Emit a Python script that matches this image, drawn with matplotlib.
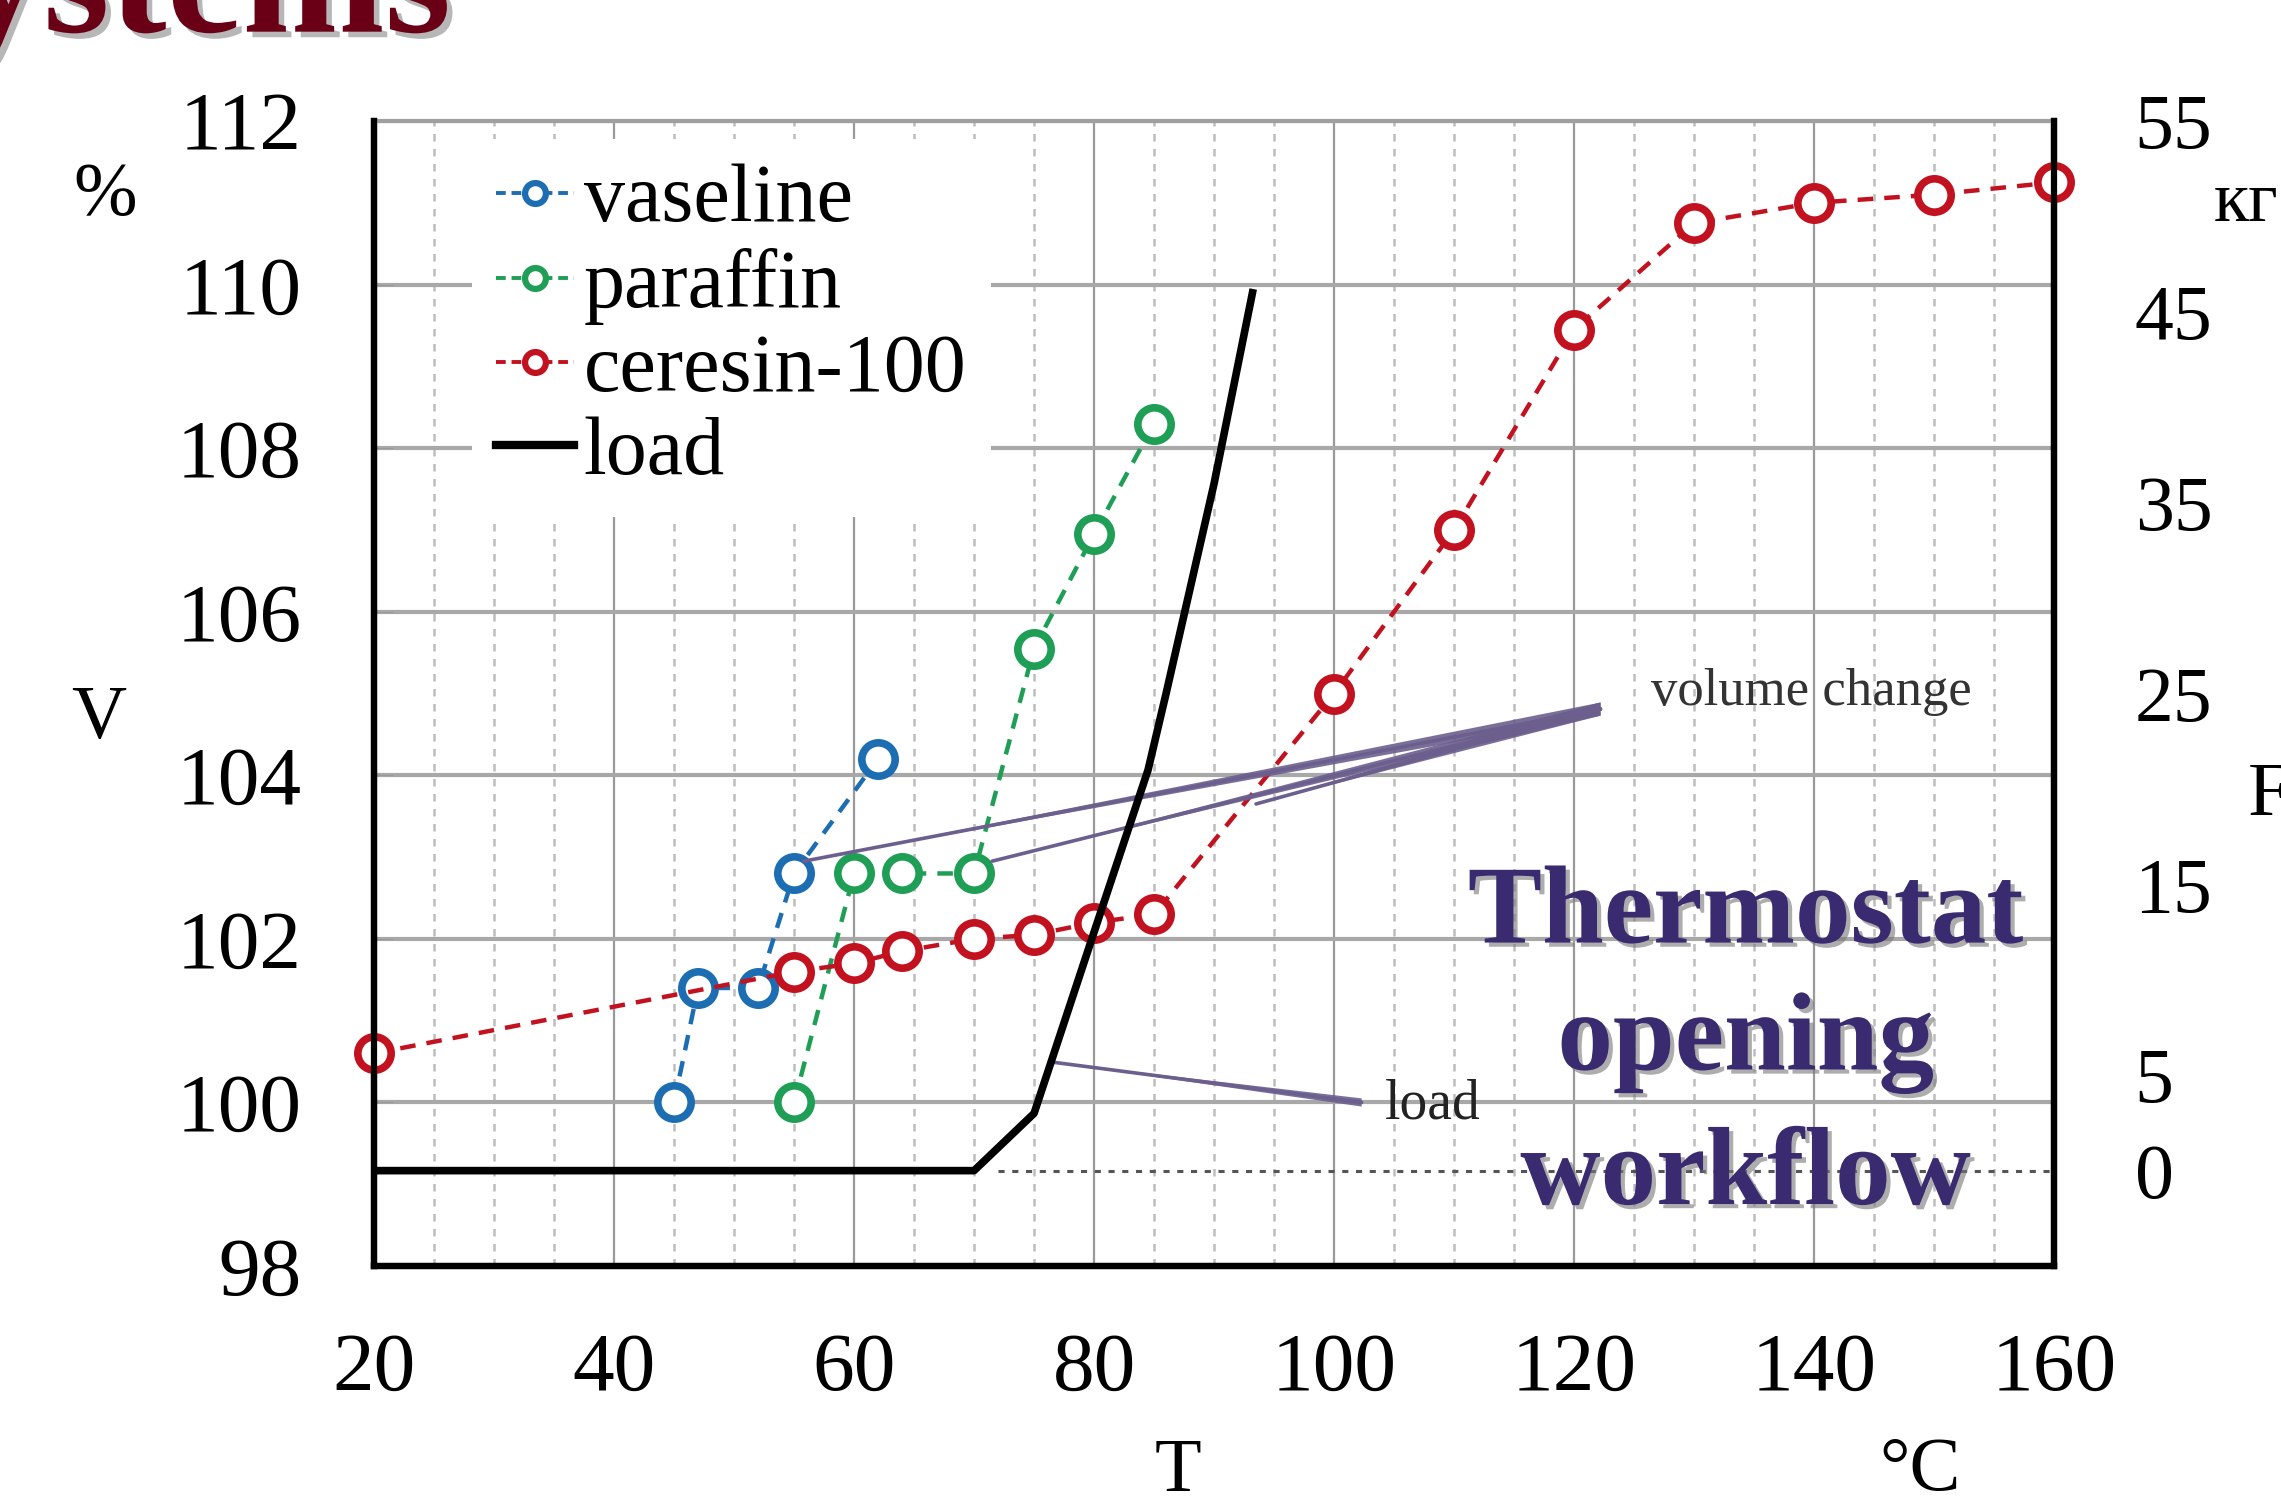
import numpy as np
import matplotlib
matplotlib.use('Agg')
import matplotlib.pyplot as plt
import matplotlib.patheffects as pe
from matplotlib.lines import Line2D

plt.rcParams['font.family'] = ['Liberation Serif', 'DejaVu Serif']

# temperature, degC  /  relative volume, %
vaseline_t = [45, 47, 52, 55, 62]
vaseline_v = [100.0, 101.4, 101.4, 102.8, 104.2]

paraffin_t = [55, 60, 64, 70, 75, 80, 85]
paraffin_v = [100.0, 102.8, 102.8, 102.8, 105.55, 106.95, 108.3]

ceresin_t = [20, 55, 60, 64, 70, 75, 80, 85, 100, 110, 120, 130, 140, 150, 160]
ceresin_v = [100.6, 101.6, 101.7, 101.85, 102.0, 102.05, 102.2, 102.3,
             105.0, 107.0, 109.45, 110.75, 111.0, 111.1, 111.25]

# load, kgf (right axis)
load_t = [20, 70, 75, 80, 84.5, 86, 90, 93.2]
load_f = [0, 0, 3, 12.5, 21, 25, 36, 46]

x_ticks = [20, 40, 60, 80, 100, 120, 140, 160]
v_ticks = [98, 100, 102, 104, 106, 108, 110, 112]
f_ticks = [0, 5, 15, 25, 35, 45, 55]

title_lines = ['Thermostat', 'opening', 'workflow']

BLUE = '#1d6db3'
GREEN = '#1f9e55'
RED = '#c3121f'
ANN = '#6c5f8e'

fig = plt.figure(figsize=(22.81, 15.09), dpi=100)
ax = fig.add_axes([0.164, 0.161, 0.7365, 0.7588])
ax2 = ax.twinx()

# grid
ax.set_xlim(20, 160)
ax.set_ylim(98, 112)
ax.set_xticks(x_ticks)
ax.set_xticks(np.arange(20, 161, 5), minor=True)
ax.set_yticks(v_ticks)
ax.grid(True, which='major', axis='x', color='#9a9a9a', lw=1.6)
ax.grid(True, which='minor', axis='x', color='#bdbdbd', lw=1.8, ls=(0, (3, 3)))
ax.grid(True, which='major', axis='y', color='#a8a8a8', lw=3.0)
ax.set_axisbelow(True)

mstyle = dict(marker='o', ms=24, mew=5.5, mfc='white', ls=(0, (3.5, 2.5)), lw=3.2)
ax.plot(vaseline_t, vaseline_v, color=BLUE, zorder=4, **mstyle)
ax.plot(paraffin_t, paraffin_v, color=GREEN, zorder=4, **mstyle)
ax.plot(ceresin_t, ceresin_v, color=RED, zorder=4, clip_on=False, **mstyle)


def pointer(a, tip, apex, h, color):
    # tapered pointer line, thicker at the label end
    a.fill([tip[0], apex[0], apex[0]], [tip[1], apex[1] + h, apex[1] - h],
           color=color, lw=0, zorder=5, alpha=0.9)
    a.plot([tip[0], apex[0]], [tip[1], apex[1]], color=color, lw=2.6,
           zorder=5, solid_capstyle='round')


apex = (122.2, 104.81)
for tip in [(55.8, 102.95), (71.5, 102.95), (93.5, 103.65)]:
    pointer(ax, tip, apex, 0.08, ANN)
pointer(ax, (76.7, 100.49), (102.3, 100.0), 0.05, ANN)

ax.text(139.8, 105.02, 'volume change', fontsize=38, ha='center', va='center',
        color='#333333', zorder=6)
ax.text(104.2, 99.97, 'load', fontsize=40, ha='left', va='center',
        color='#222222', zorder=6)

# spines
for s in ['left', 'bottom', 'right']:
    ax.spines[s].set_linewidth(4.5)
    ax2.spines[s].set_linewidth(4.5)
ax.spines['top'].set_color('#a0a0a0')
ax.spines['top'].set_linewidth(3)
ax2.spines['top'].set_visible(False)

ax.tick_params(axis='both', which='both', direction='in', color='#999999')
ax.tick_params(axis='y', labelsize=60, pad=52, length=14)
ax.tick_params(axis='x', labelsize=60, pad=48, length=0, which='both')

# load on right axis
ax2.set_ylim(-5, 55)
ax2.set_yticks(f_ticks)
ax2.tick_params(axis='y', labelsize=56, pad=58, length=0)
ax2.plot([72, 160], [0, 0], color='#555555', lw=2.2, ls=(0, (2, 2.5)), zorder=2)
ax2.plot(load_t, load_f, color='black', lw=5.5, zorder=6, solid_joinstyle='round')

shadow = [pe.withSimplePatchShadow(offset=(3, -3), shadow_rgbFace='#777777', alpha=0.6)]
for line, yb in zip(title_lines, [11.95, 5.3, -1.75]):
    ax2.text(134.3, yb, line, fontsize=80, fontweight='bold', ha='center',
             va='baseline', color='#3a2a70', zorder=7, path_effects=shadow)

hstyle = dict(marker='o', ms=15, mew=4.5, mfc='white', ls=(0, (2.5, 1.5)), lw=2.8)
handles = [
    Line2D([], [], color=BLUE, **hstyle),
    Line2D([], [], color=GREEN, **hstyle),
    Line2D([], [], color=RED, **hstyle),
    Line2D([], [], color='black', lw=6),
]
leg = ax2.legend(handles, ['vaseline', 'paraffin', 'ceresin-100', 'load'],
                 loc='upper left', bbox_to_anchor=(0.058, 0.984), fontsize=59,
                 frameon=True, framealpha=1, edgecolor='none', facecolor='white',
                 handlelength=0.95, handletextpad=0.12, labelspacing=0.1,
                 borderpad=0.3, borderaxespad=0)
leg.set_zorder(10)

# axis labels
fig.text(0.046, 0.870, '%', fontsize=55, ha='center', va='center')
fig.text(0.0434, 0.523, 'V', fontsize=55, ha='center', va='center')
fig.text(0.5166, 0.024, 'T', fontsize=55, ha='center', va='center')
fig.text(0.842, 0.025, '°C', fontsize=55, ha='center', va='center')
fig.text(0.9707, 0.865, 'кг', fontsize=52, ha='left', va='center')
fig.text(0.9855, 0.472, 'F', fontsize=55, ha='left', va='center')

# cropped slide title
fig.text(0.1977, 0.979, 'ystems', fontsize=123, fontweight='bold', ha='right',
         va='baseline', color='#6a0016',
         path_effects=[pe.withSimplePatchShadow(offset=(4, -4), shadow_rgbFace='#888888', alpha=0.6)])

fig.savefig('out.png', dpi=100)
